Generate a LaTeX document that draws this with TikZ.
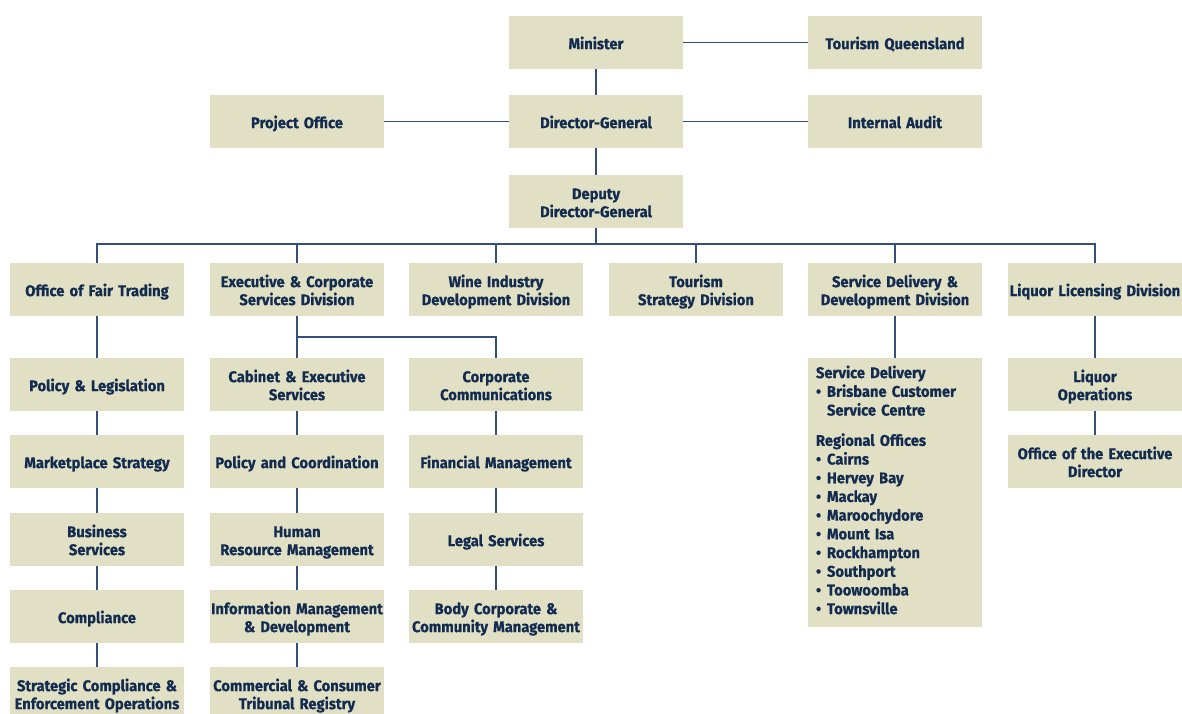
\documentclass[tikz,border=0pt]{standalone}
\usepackage{fontspec}
\setmainfont{Fira Sans}[FakeStretch=0.95, BoldFeatures={FakeBold=0.6}]
\definecolor{boxfill}{HTML}{E1E0C4}
\definecolor{ink}{HTML}{122B4F}
\definecolor{wire}{HTML}{34507A}
% bullet with a fixed hanging width
\newcommand{\itm}{\makebox[11pt][l]{\textbullet}}

\begin{document}
\begin{tikzpicture}[
  x=1pt, y=-1pt,
  unit/.style={fill=boxfill, text=ink, font=\bfseries\fontsize{15.5}{18}\selectfont,
    minimum width=174pt, minimum height=53pt, inner xsep=0pt, inner ysep=1pt,
    text width=174pt, align=center,
    execute at begin node={\rule{0pt}{17.8pt}},
    execute at end node={\rule[-4.5pt]{0pt}{4.5pt}}},
  link/.style={draw=wire, line width=1.2pt}]
  \clip (0,0) rectangle (1182,713);
  % Minister and the units beside the Director-General
  \node[unit] (minister) at (596,42.5) {Minister};
  \node[unit] (tq) at (895,42.5) {Tourism Queensland};
  \node[unit] (project) at (297,121.5) {Project Office};
  \node[unit] (dg) at (596,121.5) {Director-General};
  \node[unit] (audit) at (895,121.5) {Internal Audit};
  \node[unit] (ddg) at (596,201.5) {Deputy\\Director-General};
  % Divisions
  \node[unit] (oft) at (97,289.5) {Office of Fair Trading};
  \node[unit] (ecs) at (297,289.5) {Executive \& Corporate\\Services Division};
  \node[unit] (wine) at (496,289.5) {Wine Industry\\Development Division};
  \node[unit] (tourism) at (696,289.5) {Tourism\\Strategy Division};
  \node[unit] (sdd) at (895,289.5) {Service Delivery \&\\Development Division};
  \node[unit] (liquor) at (1095,289.5) {Liquor Licensing Division};
  % Office of Fair Trading column
  \node[unit] (policyleg) at (97,384.5) {Policy \& Legislation};
  \node[unit] (market) at (97,461.5) {Marketplace Strategy};
  \node[unit] (business) at (97,539.5) {Business\\Services};
  \node[unit] (compliance) at (97,616.5) {Compliance};
  \node[unit] (strategic) at (97,693.5) {Strategic Compliance \&\\Enforcement Operations};
  % Executive & Corporate Services columns
  \node[unit] (cabinet) at (297,384.5) {Cabinet \& Executive\\Services};
  \node[unit] (policyco) at (297,461.5) {Policy and Coordination};
  \node[unit] (hrm) at (297,539.5) {Human\\Resource Management};
  \node[unit] (infomgt) at (297,616.5) {Information Management\\\& Development};
  \node[unit] (tribunal) at (297,693.5) {Commercial \& Consumer\\Tribunal Registry};
  \node[unit] (corpcomm) at (496,384.5) {Corporate\\Communications};
  \node[unit] (finance) at (496,461.5) {Financial Management};
  \node[unit] (legal) at (496,539.5) {Legal Services};
  \node[unit] (bodycorp) at (496,616.5) {Body Corporate \&\\Community Management};
  % Service delivery offices
  \node[unit, minimum height=269pt, text width=158pt, inner xsep=8pt, align=left,
    execute at end node={\rule[-10.5pt]{0pt}{10.5pt}},
    font=\bfseries\fontsize{15.5}{18.7}\selectfont] (offices) at (895,492.5)
    {Service Delivery\\
     \itm Brisbane Customer\\
     \hspace*{11pt}Service Centre\\[11.6pt]
     Regional Offices\\
     \itm Cairns\\
     \itm Hervey Bay\\
     \itm Mackay\\
     \itm Maroochydore\\
     \itm Mount Isa\\
     \itm Rockhampton\\
     \itm Southport\\
     \itm Toowoomba\\
     \itm Townsville};
  % Liquor Licensing column
  \node[unit] (liquorops) at (1095,384.5) {Liquor\\Operations};
  \node[unit] (execdir) at (1095,461.5) {Office of the Executive\\Director};

  % Connectors
  \coordinate (bus) at (596,244);
  \coordinate (split) at (297,337);
  \draw[link] (minister) -- (tq);
  \draw[link] (project) -- (dg);
  \draw[link] (dg) -- (audit);
  \draw[link] (minister) -- (dg);
  \draw[link] (dg) -- (ddg);
  \draw[link] (ddg) -- (bus);
  \draw[link] (oft.north) |- (bus) -| (liquor.north);
  \foreach \d in {ecs, wine, tourism, sdd}
    \draw[link] (\d.north) -- (\d.north |- bus);
  \draw[link] (split) -| (corpcomm.north);
  \foreach \a/\b in {oft/policyleg, policyleg/market, market/business,
      business/compliance, compliance/strategic,
      ecs/cabinet, cabinet/policyco, policyco/hrm, hrm/infomgt, infomgt/tribunal,
      corpcomm/finance, finance/legal, legal/bodycorp,
      sdd/offices, liquor/liquorops, liquorops/execdir}
    \draw[link] (\a) -- (\b);
\end{tikzpicture}
\end{document}
